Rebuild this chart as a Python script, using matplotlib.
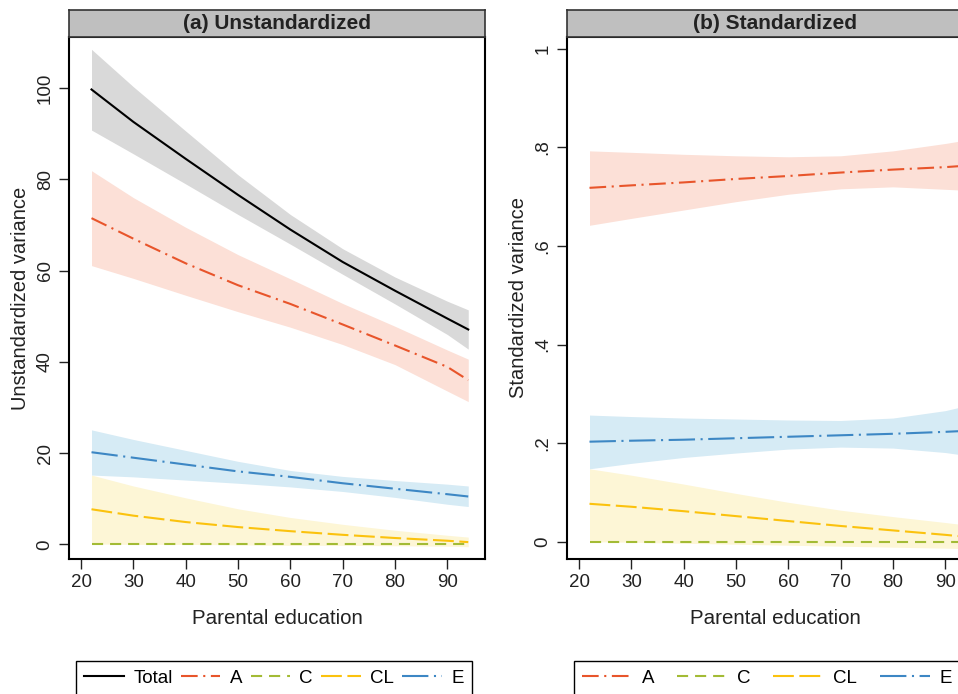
import numpy as np
import matplotlib
matplotlib.use("Agg")
import matplotlib.pyplot as plt

plt.rcParams['font.family'] = ['Liberation Sans', 'DejaVu Sans']
plt.rcParams['lines.scale_dashes'] = False

edu = [22, 30, 40, 50, 60, 70, 80, 90, 94]

# (a) unstandardized variance
tot = [99.7, 92.6, 84.5, 76.6, 69.0, 61.9, 55.6, 49.5, 47.1]
tot_hi = [108.5, 100.3, 90.6, 81.0, 72.3, 64.8, 58.6, 53.3, 51.4]
tot_lo = [90.8, 85.6, 79.0, 72.3, 65.8, 59.2, 52.7, 46.0, 42.8]
a_u = [71.5, 67.0, 61.6, 56.8, 52.7, 48.2, 43.6, 38.9, 36.0]
a_u_hi = [81.9, 76.0, 69.5, 63.5, 58.2, 52.8, 47.8, 42.6, 40.6]
a_u_lo = [61.1, 58.3, 54.6, 51.0, 47.6, 43.8, 39.4, 33.6, 31.3]
c_u = [0, 0, 0, 0, 0, 0, 0, 0, 0]
cl_u = [7.7, 6.3, 4.9, 3.8, 2.9, 2.1, 1.4, 0.8, 0.5]
cl_u_hi = [15.2, 12.8, 10.2, 7.8, 5.9, 4.4, 3.1, 2.0, 1.6]
cl_u_lo = [0.1, 0.0, 0.0, -0.1, -0.2, -0.2, -0.3, -0.4, -0.5]
e_u = [20.2, 19.0, 17.5, 16.0, 14.8, 13.4, 12.2, 11.0, 10.5]
e_u_hi = [25.1, 23.0, 20.6, 18.2, 16.2, 14.9, 14.0, 13.2, 12.8]
e_u_lo = [15.2, 14.8, 14.1, 13.4, 12.6, 11.6, 10.3, 8.8, 8.3]

# (b) standardized variance
a_s = [0.718, 0.723, 0.729, 0.736, 0.742, 0.749, 0.755, 0.760, 0.763]
a_s_hi = [0.793, 0.790, 0.786, 0.783, 0.781, 0.783, 0.793, 0.808, 0.815]
a_s_lo = [0.642, 0.656, 0.673, 0.690, 0.705, 0.716, 0.720, 0.715, 0.713]
c_s = [0, 0, 0, 0, 0, 0, 0, 0, 0]
cl_s = [0.077, 0.071, 0.062, 0.052, 0.042, 0.032, 0.023, 0.014, 0.010]
cl_s_hi = [0.148, 0.135, 0.117, 0.098, 0.080, 0.064, 0.051, 0.039, 0.034]
cl_s_lo = [0.0, -0.001, -0.003, -0.005, -0.007, -0.009, -0.011, -0.013, -0.014]
e_s = [0.203, 0.205, 0.207, 0.210, 0.213, 0.216, 0.219, 0.223, 0.225]
e_s_hi = [0.257, 0.254, 0.251, 0.249, 0.247, 0.246, 0.251, 0.266, 0.276]
e_s_lo = [0.148, 0.159, 0.171, 0.180, 0.188, 0.192, 0.190, 0.181, 0.175]

yt_u = [0, 20, 40, 60, 80, 100]
yt_s = [0, 0.2, 0.4, 0.6, 0.8, 1]
yt_s_lab = ['0', '.2', '.4', '.6', '.8', '1']
xt = [20, 30, 40, 50, 60, 70, 80, 90]

col = {'Total': 'black', 'A': '#e8552b', 'C': '#a3bb35', 'CL': '#fbc20e', 'E': '#3d87c4'}
band = {'Total': '#d9d9d9', 'A': '#fce0d7', 'CL': '#fdf6d6', 'E': '#d6ebf5'}
ls = {'Total': '-',
      'A': (0, (12, 4, 1.5, 4)),
      'C': (0, (8, 5)),
      'CL': (0, (15, 4)),
      'E': (0, (19, 4, 1.5, 4))}

W, H = 958, 694
fig = plt.figure(figsize=(W / 100, H / 100), dpi=100)


def px(x0, y0, x1, y1):
    return [x0 / W, 1 - y1 / H, (x1 - x0) / W, (y1 - y0) / H]


def panel(x0, title):
    ax = fig.add_axes(px(x0, 37, x0 + 416, 559))
    st = fig.add_axes(px(x0, 10, x0 + 416, 37))
    st.set_facecolor('#bfbfbf')
    st.set_xticks([])
    st.set_yticks([])
    for s in st.spines.values():
        s.set_color('#333333')
        s.set_linewidth(1.2)
    st.text(0.5, 0.5, title, ha='center', va='center', fontsize=15,
            fontweight='bold', color='#222222', transform=st.transAxes)
    for s in ax.spines.values():
        s.set_linewidth(1.5)
    ax.set_xlim(17.7, 97.2)
    ax.set_xticks(xt)
    ax.tick_params(length=7, width=1, labelsize=13.5, colors='#222222', pad=4)
    ax.tick_params(axis='y', labelrotation=90)
    ax.set_xlabel('Parental education', fontsize=14.8, labelpad=13, color='#222222')
    return ax


def draw(ax, name, y, lo=None, hi=None):
    if lo is not None:
        ax.fill_between(edu, lo, hi, color=band[name], lw=0)
    ax.plot(edu, y, color=col[name], ls=ls[name], lw=1.5, label=name)


ax1 = panel(69, '(a) Unstandardized')
draw(ax1, 'Total', tot, tot_lo, tot_hi)
draw(ax1, 'A', a_u, a_u_lo, a_u_hi)
draw(ax1, 'C', c_u)
draw(ax1, 'CL', cl_u, cl_u_lo, cl_u_hi)
draw(ax1, 'E', e_u, e_u_lo, e_u_hi)
ax1.set_ylim(-3.2, 111.2)
ax1.set_yticks(yt_u)
for lab in ax1.get_yticklabels():
    lab.set_va('center')
ax1.set_ylabel('Unstandardized variance', fontsize=14.5, labelpad=5, color='#222222')

ax2 = panel(567, '(b) Standardized')
draw(ax2, 'A', a_s, a_s_lo, a_s_hi)
draw(ax2, 'C', c_s)
draw(ax2, 'CL', cl_s, cl_s_lo, cl_s_hi)
draw(ax2, 'E', e_s, e_s_lo, e_s_hi)
ax2.set_ylim(-0.035, 1.024)
ax2.set_yticks(yt_s, yt_s_lab)
for lab in ax2.get_yticklabels():
    lab.set_va('center')
ax2.set_ylabel('Standardized variance', fontsize=14.5, labelpad=5, color='#222222')


def legend(ax, x0, ncol, hl, cs):
    h, l = ax.get_legend_handles_labels()
    leg = fig.legend(h, l, loc='upper left', ncol=ncol,
                     bbox_to_anchor=(x0 / W, 1 - 661 / H),
                     borderaxespad=0, fancybox=False, edgecolor='black',
                     fontsize=13.5, handlelength=hl, handletextpad=0.5,
                     columnspacing=cs, borderpad=0.45, framealpha=1)
    leg.get_frame().set_linewidth(1.0)


legend(ax1, 76, 5, 2.1, 0.45)
legend(ax2, 574, 4, 2.7, 1.2)

fig.savefig('out.png', dpi=100)
